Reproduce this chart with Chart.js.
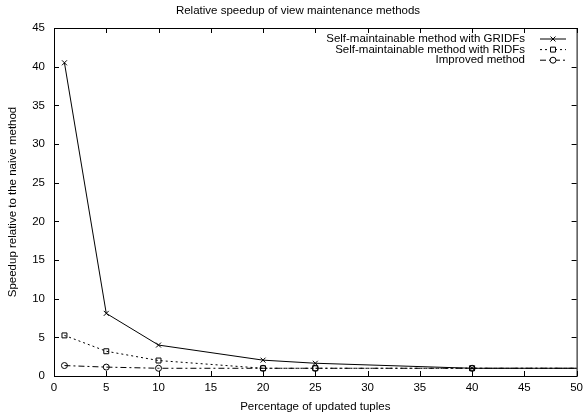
<!DOCTYPE html>
<html>
<head>
<meta charset="utf-8">
<script src="https://cdn.jsdelivr.net/npm/chart.js@4/dist/chart.umd.min.js"></script>
<style>
  html, body { margin: 0; padding: 0; background: #fff; }
  #wrap { width: 588px; height: 415px; }
</style>
</head>
<body>
<div id="wrap"><canvas id="myChart" width="588" height="415"></canvas></div>
<script>
const FONT = "'Liberation Sans', Arial, sans-serif";
const FSIZE = 11.5;

const chartTitle = "Relative speedup of view maintenance methods";
const xTitle = "Percentage of updated tuples";
const yTitle = "Speedup relative to the naive method";

const xValues = [1, 5, 10, 20, 25, 40, 100];
const gridfs = [40.5, 8.1, 4.0, 2.05, 1.65, 1.0, 1.0];
const ridfs = [5.25, 3.2, 2.0, 1.0, 1.0, 1.0, 1.0];
const improved = [1.35, 1.15, 1.0, 1.0, 1.0, 1.0, 1.0];

const labels = [
  "Self-maintainable method with GRIDFs",
  "Self-maintainable method with RIDFs",
  "Improved method",
];

const toPoints = (ys) => xValues.map((x, i) => ({ x: x, y: ys[i] }));

// gnuplot-like frame, inward ticks, title and key
const gnuplotFrame = {
  id: "gnuplotFrame",
  afterDraw(chart) {
    const { ctx, chartArea: a, scales } = chart;
    ctx.save();
    ctx.strokeStyle = "#000";
    ctx.lineWidth = 1;
    ctx.setLineDash([]);
    ctx.strokeRect(a.left + 0.5, a.top + 0.5, a.right - a.left, a.bottom - a.top);

    const tl = 5;
    ctx.beginPath();
    scales.x.ticks.forEach((t) => {
      const px = Math.round(scales.x.getPixelForValue(t.value)) + 0.5;
      ctx.moveTo(px, a.bottom);
      ctx.lineTo(px, a.bottom - tl);
      ctx.moveTo(px, a.top);
      ctx.lineTo(px, a.top + tl);
    });
    scales.y.ticks.forEach((t) => {
      const py = Math.round(scales.y.getPixelForValue(t.value)) + 0.5;
      ctx.moveTo(a.left, py);
      ctx.lineTo(a.left + tl, py);
      ctx.moveTo(a.right, py);
      ctx.lineTo(a.right - tl, py);
    });
    ctx.stroke();

    // title
    ctx.fillStyle = "#000";
    ctx.font = FSIZE + "px " + FONT;
    ctx.textAlign = "center";
    ctx.textBaseline = "middle";
    ctx.fillText(chartTitle, 298, 11);

    // key
    ctx.textAlign = "right";
    chart.data.datasets.forEach((ds, i) => {
      const y = 39 + i * 10.6;
      ctx.fillStyle = "#000";
      ctx.fillText(ds.label, 525, y);
      ctx.beginPath();
      ctx.setLineDash(ds.borderDash || []);
      ctx.moveTo(540, y);
      ctx.lineTo(566, y);
      ctx.stroke();
      ctx.setLineDash([]);
      ctx.fillStyle = "#fff";
      Chart.helpers.drawPoint(ctx, {
        pointStyle: ds.pointStyle,
        radius: ds.pointRadius,
        borderWidth: 1,
        rotation: 0,
      }, 553, y);
    });
    ctx.restore();
  },
};

const common = {
  borderColor: "#000",
  backgroundColor: "rgba(0,0,0,0)",
  pointBorderColor: "#000",
  pointBackgroundColor: "rgba(0,0,0,0)",
  borderWidth: 1,
  pointBorderWidth: 1,
  pointRadius: 3.5,
  tension: 0,
  fill: false,
};

new Chart(document.getElementById("myChart"), {
  type: "line",
  data: {
    datasets: [
      Object.assign({}, common, { label: labels[0], data: toPoints(gridfs), pointStyle: "crossRot" }),
      Object.assign({}, common, { label: labels[1], data: toPoints(ridfs), pointStyle: "rect", borderDash: [2, 3] }),
      Object.assign({}, common, { label: labels[2], data: toPoints(improved), pointStyle: "circle", pointRadius: 3, borderDash: [6, 3, 2, 3] }),
    ],
  },
  options: {
    responsive: false,
    animation: false,
    events: [],
    layout: { padding: { top: 28, right: 8, left: 0, bottom: 0 } },
    plugins: {
      legend: { display: false },
      title: { display: false },
      tooltip: { enabled: false },
    },
    scales: {
      x: {
        type: "linear",
        min: 0,
        max: 50,
        ticks: { stepSize: 5, color: "#000", font: { family: FONT, size: FSIZE }, padding: 5, maxRotation: 0 },
        grid: { display: false, drawTicks: false },
        border: { display: false },
        title: { display: true, text: xTitle, color: "#000", font: { family: FONT, size: FSIZE }, padding: { top: 0, bottom: 1.5 } },
        afterFit(scale) { scale.height = 39; },
      },
      y: {
        type: "linear",
        min: 0,
        max: 45,
        ticks: { stepSize: 5, color: "#000", font: { family: FONT, size: FSIZE }, padding: 9 },
        grid: { display: false, drawTicks: false },
        border: { display: false },
        title: { display: true, text: yTitle, color: "#000", font: { family: FONT, size: FSIZE }, padding: { top: 6.4, bottom: 0 } },
        afterFit(scale) { scale.width = 54; },
      },
    },
  },
  plugins: [gnuplotFrame],
});
</script>
</body>
</html>
